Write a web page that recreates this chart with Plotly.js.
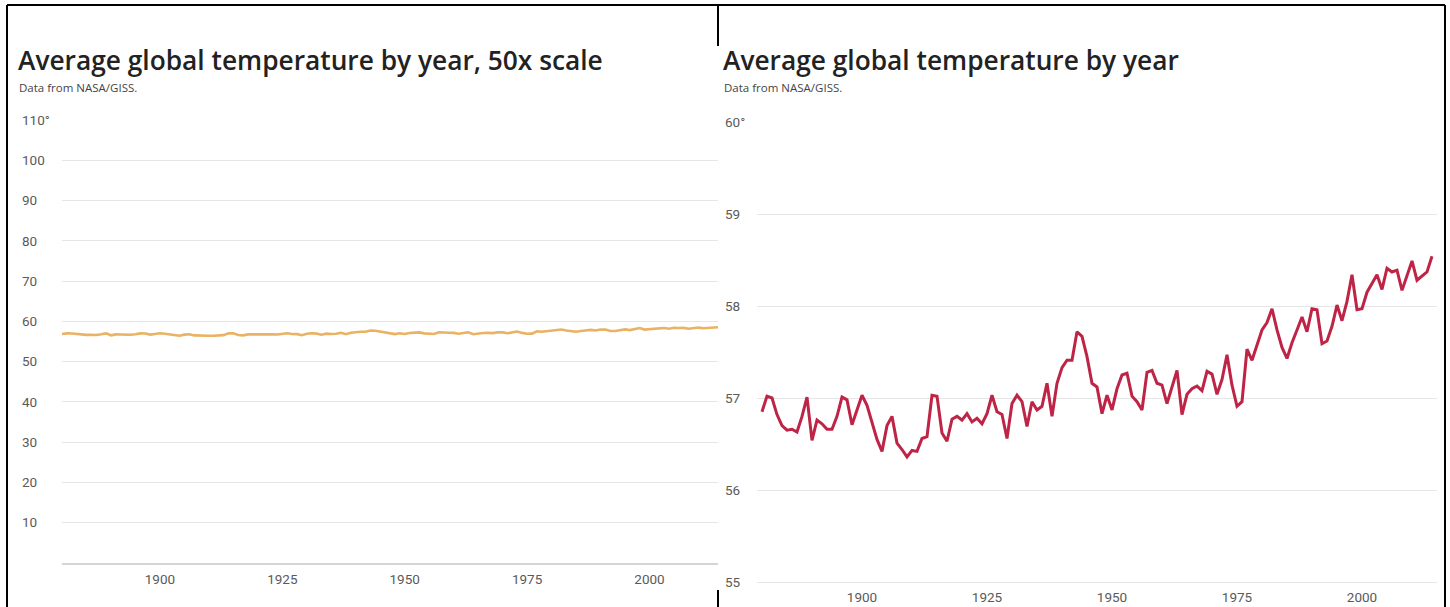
<!DOCTYPE html>
<html>
<head>
<meta charset="utf-8">
<script src="https://cdn.plot.ly/plotly-3.0.1.min.js"></script>
<style>
  html, body { margin: 0; padding: 0; background: #ffffff; }
  #chart { width: 1450px; height: 607px; }
</style>
</head>
<body>
<div id="chart"></div>
<script>
// ---- data ----
const years = [
  1880,1881,1882,1883,1884,1885,1886,1887,1888,1889,
  1890,1891,1892,1893,1894,1895,1896,1897,1898,1899,
  1900,1901,1902,1903,1904,1905,1906,1907,1908,1909,
  1910,1911,1912,1913,1914,1915,1916,1917,1918,1919,
  1920,1921,1922,1923,1924,1925,1926,1927,1928,1929,
  1930,1931,1932,1933,1934,1935,1936,1937,1938,1939,
  1940,1941,1942,1943,1944,1945,1946,1947,1948,1949,
  1950,1951,1952,1953,1954,1955,1956,1957,1958,1959,
  1960,1961,1962,1963,1964,1965,1966,1967,1968,1969,
  1970,1971,1972,1973,1974,1975,1976,1977,1978,1979,
  1980,1981,1982,1983,1984,1985,1986,1987,1988,1989,
  1990,1991,1992,1993,1994,1995,1996,1997,1998,1999,
  2000,2001,2002,2003,2004,2005,2006,2007,2008,2009,
  2010,2011,2012,2013,2014
];
const tempF = [
  56.85,57.02,57.00,56.82,56.70,56.65,56.66,56.63,56.80,57.01,
  56.54,56.76,56.72,56.66,56.66,56.80,57.01,56.98,56.71,56.88,
  57.03,56.92,56.72,56.55,56.42,56.70,56.80,56.51,56.44,56.36,
  56.43,56.42,56.56,56.58,57.03,57.02,56.62,56.53,56.77,56.80,
  56.76,56.83,56.74,56.78,56.72,56.83,57.03,56.85,56.82,56.56,
  56.94,57.03,56.96,56.69,56.96,56.87,56.91,57.16,56.80,57.16,
  57.33,57.41,57.41,57.72,57.67,57.45,57.16,57.12,56.83,57.03,
  56.87,57.10,57.25,57.27,57.02,56.96,56.87,57.28,57.30,57.16,
  57.14,56.94,57.12,57.30,56.82,57.04,57.10,57.13,57.08,57.29,
  57.26,57.04,57.20,57.47,57.14,56.91,56.96,57.53,57.41,57.58,
  57.74,57.82,57.97,57.74,57.55,57.43,57.60,57.74,57.88,57.72,
  57.97,57.96,57.59,57.62,57.78,58.01,57.84,58.05,58.34,57.96,
  57.97,58.15,58.25,58.34,58.18,58.41,58.37,58.39,58.17,58.33,
  58.49,58.28,58.32,58.37,58.54
];
const xTickVals = [1900, 1925, 1950, 1975, 2000];
const xTickText = ["1900", "1925", "1950", "1975", "2000"];
const leftYTickVals = [10, 20, 30, 40, 50, 60, 70, 80, 90, 100, 110];
const leftYTickText = ["10", "20", "30", "40", "50", "60", "70", "80", "90", "100", "110°"];
const rightYTickVals = [55, 56, 57, 58, 59, 60];
const rightYTickText = ["55", "56", "57", "58", "59", "60°"];
const leftTitle = "Average global temperature by year, 50x scale";
const rightTitle = "Average global temperature by year";
const sourceNote = "Data from NASA/GISS.";

// ---- layout helpers (pixel -> paper) ----
const W = 1450, H = 607;
const px = v => v / W;
const py = v => 1 - v / H;

const tickFont = { family: "Roboto, 'Liberation Sans', sans-serif", size: 13.5, color: "#5a5a5a" };
const titleFont = { family: "'Open Sans', Roboto, sans-serif", size: 26.3, color: "#222222", weight: 600 };
const noteFont = { family: "'Open Sans', Roboto, sans-serif", size: 11.5, color: "#444444" };

const traces = [
  {
    x: years, y: tempF, type: "scatter", mode: "lines",
    xaxis: "x", yaxis: "y",
    line: { color: "#e9b264", width: 2.6 },
    hoverinfo: "skip", showlegend: false
  },
  {
    x: years, y: tempF, type: "scatter", mode: "lines",
    xaxis: "x2", yaxis: "y2",
    line: { color: "#bd2446", width: 3 },
    hoverinfo: "skip", showlegend: false
  }
];

const blk = { color: "#000000", width: 2 };
const layout = {
  width: W, height: H,
  margin: { l: 0, r: 0, t: 0, b: 0, pad: 0 },
  paper_bgcolor: "#ffffff",
  plot_bgcolor: "#ffffff",
  showlegend: false,
  xaxis: {
    domain: [px(62), px(718)],
    range: [1880, 2014],
    anchor: "y",
    tickvals: xTickVals, ticktext: xTickText,
    showgrid: false, zeroline: false,
    showline: true, linecolor: "#d4d4d4", linewidth: 2,
    ticks: "", tickfont: tickFont,
    ticklabelstandoff: 3,
    fixedrange: true
  },
  yaxis: {
    domain: [py(563), py(120)],
    range: [0, 110],
    anchor: "x",
    tickvals: leftYTickVals, ticktext: leftYTickText,
    showgrid: true, gridcolor: "#e6e6e6", gridwidth: 1,
    zeroline: false, showline: false, ticks: "",
    tickfont: tickFont,
    ticklabelposition: "inside",
    ticklabeloverflow: "allow",
    ticklabelstandoff: -43,
    fixedrange: true
  },
  xaxis2: {
    domain: [px(757), px(1437)],
    range: [1879, 2015],
    anchor: "y2",
    tickvals: xTickVals, ticktext: xTickText,
    showgrid: false, zeroline: false,
    showline: true, linecolor: "#e6e6e6", linewidth: 1,
    ticks: "", tickfont: tickFont,
    ticklabelstandoff: 3,
    fixedrange: true
  },
  yaxis2: {
    domain: [py(582), py(122)],
    range: [55, 60],
    anchor: "x2",
    tickvals: rightYTickVals, ticktext: rightYTickText,
    showgrid: true, gridcolor: "#e6e6e6", gridwidth: 1,
    zeroline: false, showline: false, ticks: "",
    tickfont: tickFont,
    ticklabelposition: "inside",
    ticklabeloverflow: "allow",
    ticklabelstandoff: -35,
    fixedrange: true
  },
  annotations: [
    { text: leftTitle, xref: "paper", yref: "paper", x: px(16), y: py(60),
      xanchor: "left", yanchor: "middle", showarrow: false, font: titleFont },
    { text: sourceNote, xref: "paper", yref: "paper", x: px(17), y: py(88),
      xanchor: "left", yanchor: "middle", showarrow: false, font: noteFont },
    { text: rightTitle, xref: "paper", yref: "paper", x: px(721), y: py(60),
      xanchor: "left", yanchor: "middle", showarrow: false, font: titleFont },
    { text: sourceNote, xref: "paper", yref: "paper", x: px(722), y: py(88),
      xanchor: "left", yanchor: "middle", showarrow: false, font: noteFont }
  ],
  shapes: [
    { type: "line", xref: "paper", yref: "paper", x0: px(7), x1: px(1445), y0: py(5), y1: py(5), line: blk },
    { type: "line", xref: "paper", yref: "paper", x0: px(7), x1: px(7), y0: py(5), y1: py(607), line: blk },
    { type: "line", xref: "paper", yref: "paper", x0: px(1445), x1: px(1445), y0: py(5), y1: py(607), line: blk },
    { type: "line", xref: "paper", yref: "paper", x0: px(718), x1: px(718), y0: py(5), y1: py(46), line: blk },
    { type: "line", xref: "paper", yref: "paper", x0: px(718), x1: px(718), y0: py(590), y1: py(607), line: blk }
  ]
};

Plotly.newPlot("chart", traces, layout, { staticPlot: true, displayModeBar: false });
</script>
</body>
</html>
